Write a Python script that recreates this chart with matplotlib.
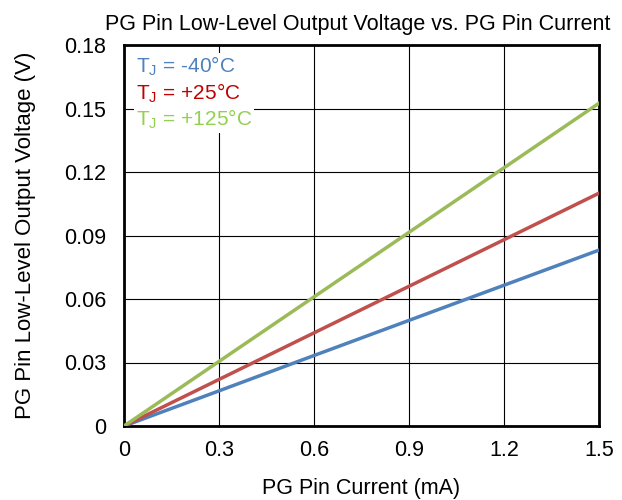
import matplotlib.pyplot as plt
import numpy as np

plt.rcParams['font.family'] = ['Liberation Sans', 'DejaVu Sans']
plt.rcParams['mathtext.fontset'] = 'custom'
plt.rcParams['mathtext.rm'] = 'Liberation Sans'

#=== data ===
courant = [0, 0.3, 0.6, 0.9, 1.2, 1.5]                      # mA
v_m40 = [0, 0.0166, 0.0333, 0.0499, 0.0665, 0.0831]         # V
v_25 = [0, 0.0220, 0.0440, 0.0660, 0.0880, 0.1100]
v_125 = [0, 0.0305, 0.0610, 0.0915, 0.1220, 0.1525]
labels = [r'T$_\mathregular{J}$ = -40°C', r'T$_\mathregular{J}$ = +25°C', r'T$_\mathregular{J}$ = +125°C']
xticks = [0, 0.3, 0.6, 0.9, 1.2, 1.5]
yticks = [0, 0.03, 0.06, 0.09, 0.12, 0.15, 0.18]
ytick_labels = ['0', '0.03', '0.06', '0.09', '0.12', '0.15', '0.18']

fig = plt.figure(figsize=(6.22, 5.0), dpi=100)
ax = fig.add_axes([124/622, 74/500, 475/622, 381/500])

ax.plot(courant, v_m40, color='#4F81BD', lw=2.5, zorder=3)
ax.plot(courant, v_25, color='#C0504D', lw=2.5, zorder=3)
ax.plot(courant, v_125, color='#9BBB59', lw=2.5, zorder=3)

ax.set_xlim(0, 1.5)
ax.set_ylim(0, 0.18)
ax.set_xticks(xticks)
ax.set_xticklabels(['0', '0.3', '0.6', '0.9', '1.2', '1.5'])
ax.set_yticks(yticks)
ax.set_yticklabels(ytick_labels)
ax.tick_params(length=0, labelsize=15.5)
ax.tick_params(axis='y', pad=13)
ax.tick_params(axis='x', pad=10)
ax.grid(True, color='black', lw=0.8)
for s in ax.spines.values():
    s.set_linewidth(2)

ax.set_xlabel('PG Pin Current (mA)', fontsize=15.5, labelpad=12)
ax.set_ylabel('PG Pin Low-Level Output Voltage (V)', fontsize=16, labelpad=20)
ax.set_title('PG Pin Low-Level Output Voltage vs. PG Pin Current', fontsize=15.5, pad=11, x=0.492)

couleurs = ['#4F81BD', '#C00000', '#92D050']
for i, (lab, c) in enumerate(zip(labels, couleurs)):
    ax.text(0.025, 0.975 - i*0.07, lab, transform=ax.transAxes, color=c, fontsize=15,
            va='top', ha='left', bbox=dict(facecolor='white', edgecolor='none', pad=1), zorder=4)

fig.savefig('out.png', dpi=100)
